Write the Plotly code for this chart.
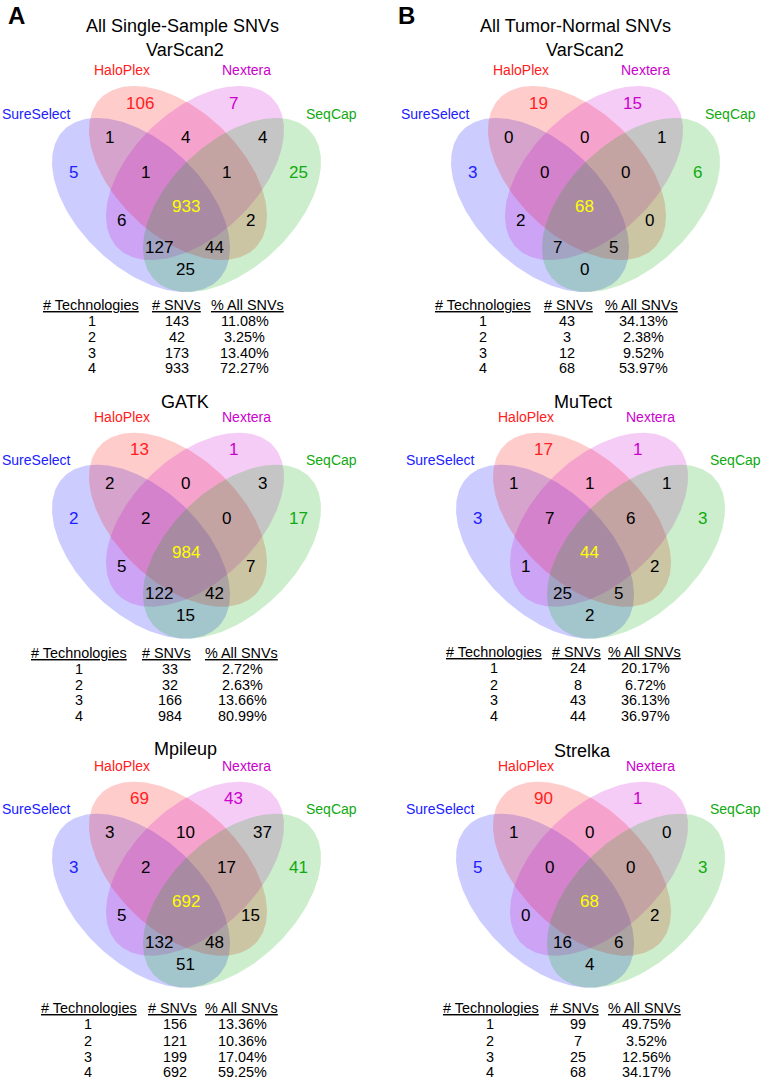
import numpy as np
import plotly.graph_objects as go

W, H = 762, 1082
FONT = "Liberation Sans, Arial, sans-serif"

# ---------------- data ----------------
set_names = ["SureSelect", "HaloPlex", "Nextera", "SeqCap"]
region_keys = ["S", "H", "N", "Q", "SH", "HN", "NQ", "SHN", "HNQ", "SHNQ",
               "SN", "HQ", "SNQ", "SHQ", "SQ"]

varscan_single = [5, 106, 7, 25, 1, 4, 4, 1, 1, 933, 6, 2, 127, 44, 25]
gatk_single = [2, 13, 1, 17, 2, 0, 3, 2, 0, 984, 5, 7, 122, 42, 15]
mpileup_single = [3, 69, 43, 41, 3, 10, 37, 2, 17, 692, 5, 15, 132, 48, 51]
varscan_tn = [3, 19, 15, 6, 0, 0, 1, 0, 0, 68, 2, 0, 7, 5, 0]
mutect_tn = [3, 17, 1, 3, 1, 1, 1, 7, 6, 44, 1, 2, 25, 5, 2]
strelka_tn = [5, 90, 1, 3, 1, 0, 0, 0, 0, 68, 0, 2, 16, 6, 4]

n_technologies = [1, 2, 3, 4]
table_headers = ["# Technologies", "# SNVs", "% All SNVs"]
varscan_single_snvs = [143, 42, 173, 933]
varscan_single_pct = [11.08, 3.25, 13.40, 72.27]
gatk_single_snvs = [33, 32, 166, 984]
gatk_single_pct = [2.72, 2.63, 13.66, 80.99]
mpileup_single_snvs = [156, 121, 199, 692]
mpileup_single_pct = [13.36, 10.36, 17.04, 59.25]
varscan_tn_snvs = [43, 3, 12, 68]
varscan_tn_pct = [34.13, 2.38, 9.52, 53.97]
mutect_tn_snvs = [24, 8, 43, 44]
mutect_tn_pct = [20.17, 6.72, 36.13, 36.97]
strelka_tn_snvs = [99, 7, 25, 68]
strelka_tn_pct = [49.75, 3.52, 12.56, 34.17]

titles_A1 = ["All Single-Sample SNVs", "VarScan2"]
titles_B1 = ["All Tumor-Normal SNVs", "VarScan2"]
title_gatk = "GATK"
title_mpileup = "Mpileup"
title_mutect = "MuTect"
title_strelka = "Strelka"

# ---------------- styles / layout ----------------
label_colors = ["#2020FF", "#FF2020", "#CC00CC", "#10AA10"]
fill_colors = ["rgba(0,0,255,0.2)", "rgba(255,0,0,0.2)",
               "rgba(204,0,204,0.2)", "rgba(0,170,0,0.2)"]

# ellipse geometry (pixels, relative to panel anchor)
ELL_A, ELL_B, SY = 108.8, 63.3, 0.978
ell_offsets = [(-45.5, 32), (-8.5, 0), (8.5, 0), (45.5, 32)]
ell_down = [True, True, False, False]

# region label offsets relative to anchor
reg_off = {
    "S": (-113, -1), "H": (-47, -70), "N": (47, -70), "Q": (112, -1),
    "SH": (-77.5, -36), "HN": (-1, -36), "NQ": (75.5, -36),
    "SHN": (-41.5, -1), "HNQ": (39.5, -1), "SHNQ": (-1, 33),
    "SN": (-65, 47), "HQ": (63.5, 47), "SNQ": (-28, 74), "SHQ": (28, 74),
    "SQ": (-1, 96),
}
set_label_off = [(-150.5, -59.5), (-65, -103), (60, -103), (144.5, -59.5)]

panels = [
    dict(anchor=(186.5, 173), regions=varscan_single,
         titles=[(titles_A1[0], 182.7, 26), (titles_A1[1], 185, 50)],
         snvs=varscan_single_snvs, pct=varscan_single_pct,
         hy=305, rows=[320.7, 337.3, 352.7, 368.3],
         hx=[91.3, 176.2, 247.2], vx=[91.7, 176.7, 244.5]),
    dict(anchor=(186.5, 519.7), regions=gatk_single,
         titles=[(title_gatk, 185, 401.7)],
         snvs=gatk_single_snvs, pct=gatk_single_pct,
         hy=652.7, rows=[669, 685, 700, 715.7],
         hx=[78.8, 166.8, 241.3], vx=[79, 170, 242.8]),
    dict(anchor=(186.5, 868.7), regions=mpileup_single,
         titles=[(title_mpileup, 185, 749)],
         snvs=mpileup_single_snvs, pct=mpileup_single_pct,
         hy=1008.3, rows=[1024, 1040.7, 1056.7, 1072.3],
         hx=[88.8, 172, 241.7], vx=[88.3, 174.7, 242.8]),
    dict(anchor=(585.5, 173), regions=varscan_tn,
         titles=[(titles_B1[0], 575.7, 26), (titles_B1[1], 585, 50)],
         snvs=varscan_tn_snvs, pct=varscan_tn_pct,
         hy=305, rows=[320.7, 337.3, 352.7, 368.3],
         hx=[483, 568.5, 641.5], vx=[482.7, 566.5, 643]),
    dict(anchor=(590.5, 519.7), regions=mutect_tn,
         titles=[(title_mutect, 582.7, 401.7)],
         snvs=mutect_tn_snvs, pct=mutect_tn_pct,
         hy=651.7, rows=[667.7, 685, 700, 715.7],
         hx=[493.8, 576, 644.2], vx=[494.3, 577.5, 645]),
    dict(anchor=(590.5, 868.7), regions=strelka_tn,
         titles=[(title_strelka, 582.7, 750.7)],
         snvs=strelka_tn_snvs, pct=strelka_tn_pct,
         hy=1008.3, rows=[1024, 1040.7, 1056.7, 1072.3],
         hx=[490.8, 574.2, 644.3], vx=[490.3, 577.7, 646]),
]

fig = go.Figure()
ann = []


def add_text(x, y, text, size, color="black", bold=False):
    ann.append(dict(x=x, y=y, xref="x", yref="y", text=text, showarrow=False,
                    xanchor="center", yanchor="middle",
                    font=dict(family=FONT, size=size, color=color,
                              weight="bold" if bold else "normal")))


t = np.linspace(0, 2 * np.pi, 240)
for p in panels:
    ax, ay = p["anchor"]
    for i in range(4):
        u = ELL_A * np.cos(t)
        v = ELL_B * np.sin(t)
        if ell_down[i]:
            ex = (u - v) / np.sqrt(2)
            ey = (u + v) / np.sqrt(2)
        else:
            ex = (u + v) / np.sqrt(2)
            ey = (-u + v) / np.sqrt(2)
        dx, dy = ell_offsets[i]
        fig.add_trace(go.Scatter(
            x=ax + dx + ex, y=ay + dy + ey * SY, mode="lines",
            fill="toself", fillcolor=fill_colors[i],
            line=dict(width=0, color="rgba(0,0,0,0)"),
            hoverinfo="skip", showlegend=False))
    # region counts
    for key, val in zip(region_keys, p["regions"]):
        ox, oy = reg_off[key]
        if len(key) == 1:
            col = label_colors["SHNQ".index(key)]
        elif key == "SHNQ":
            col = "#FFFF00"
        else:
            col = "black"
        add_text(ax + ox, ay + oy, str(val), 17, col)
    # set labels
    for i, name in enumerate(set_names):
        ox, oy = set_label_off[i]
        add_text(ax + ox, ay + oy, name, 14, label_colors[i])
    # titles
    for txt, tx, ty in p["titles"]:
        add_text(tx, ty, txt, 18)
    # table
    for j, h in enumerate(table_headers):
        add_text(p["hx"][j], p["hy"], "<u>" + h + "</u>", 14.4)
    for r in range(4):
        y = p["rows"][r]
        add_text(p["vx"][0], y, str(n_technologies[r]), 14.4)
        add_text(p["vx"][1], y, str(p["snvs"][r]), 14.4)
        add_text(p["vx"][2], y, "%.2f%%" % p["pct"][r], 14.4)

add_text(16, 15, "A", 24, bold=True)
add_text(406.5, 15, "B", 24, bold=True)

fig.update_layout(
    width=W, height=H, margin=dict(l=0, r=0, t=0, b=0),
    paper_bgcolor="white", plot_bgcolor="white",
    xaxis=dict(range=[0, W], visible=False, fixedrange=True),
    yaxis=dict(range=[H, 0], visible=False, fixedrange=True),
    annotations=ann, showlegend=False,
)
fig.write_html("out.html", config={"displayModeBar": False},
               post_script="document.body.style.margin='0px';"
                           "document.body.style.overflow='hidden';")
